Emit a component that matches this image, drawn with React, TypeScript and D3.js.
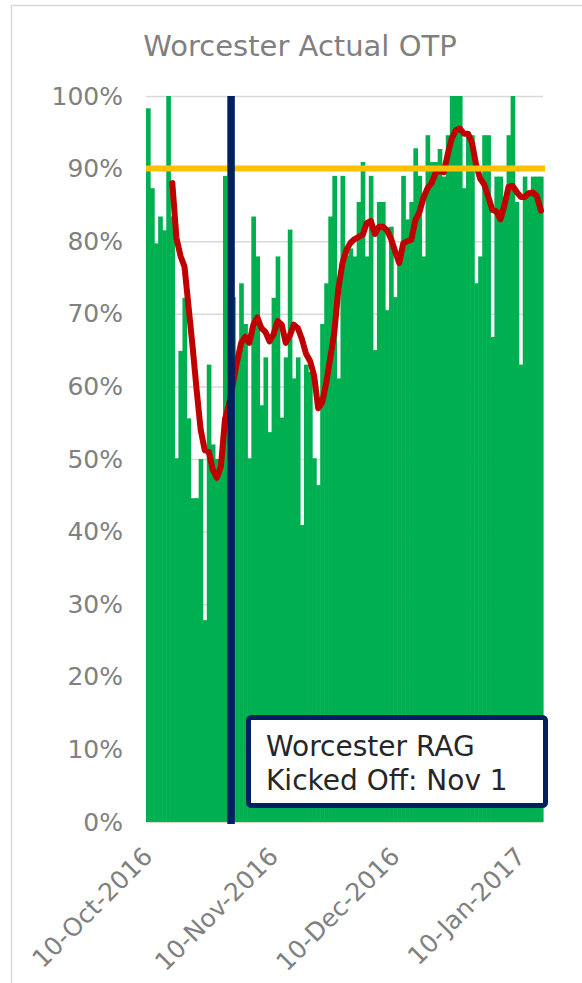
import React, { useEffect, useRef } from "react";
import * as d3 from "d3";

// Daily OTP %, 9-Oct-2016 .. 14-Jan-2017
const otp = [
  98.3, 87.3, 79.7, 83.4, 81.5, 100, 83.4, 50.1, 64.9, 72.2,
  55.6, 44.6, 44.6, 50.0, 27.8, 63.0, 52.0, 50.0, 49.0, 89.0,
  49.0, 72.3, 64.0, 74.2, 68.6, 50.1, 83.4, 77.9, 57.4, 64.0,
  53.7, 72.2, 77.9, 55.7, 64.0, 81.6, 61.1, 64.0, 40.9, 63.0,
  62.0, 50.1, 46.4, 68.6, 74.2, 83.4, 89.0, 61.1, 89.0, 78.0,
  79.0, 77.9, 85.4, 90.9, 77.9, 89.0, 65.0, 85.4, 85.4, 70.5,
  82.0, 72.3, 78.0, 89.0, 83.0, 85.4, 92.8, 89.0, 77.9, 94.6,
  90.9, 90.9, 92.7, 88.9, 94.6, 100, 100, 100, 87.3, 95.0,
  94.6, 74.2, 77.9, 94.6, 94.6, 66.8, 88.9, 88.9, 86.0, 94.6,
  100, 85.4, 63.0, 88.9, 86.5, 88.9, 88.9, 88.9,
];

// 7-day trend line (red), first point sits on day index 6
const trendStart = 6;
const trend = [
  88, 80.5, 78, 76.5, 71, 65.5, 59.5, 54, 51.2, 51,
  48.5, 47.4, 49, 55.5, 57.5, 60.5, 63.5, 66, 66.8, 66,
  68.5, 69.5, 68, 67.5, 66.2, 67.2, 69, 68.5, 66, 67,
  68.5, 68, 66.5, 64.5, 63.5, 61.5, 57, 57.8, 60.5, 64,
  67.5, 73.5, 77, 78.8, 79.8, 80.3, 80.6, 80.9, 82.5, 82.8,
  81, 82, 82, 81.5, 80.3, 78.6, 77, 79.7, 80, 80.2,
  82.9, 84, 86, 87.3, 88, 89.4, 89.7, 89.5, 92, 94.2,
  95.3, 95.5, 94.8, 94.8, 93.5, 90.5, 88.6, 87.8, 86.1, 84.3,
  84.1, 83, 85, 87.5, 87.6, 86.8, 86.1, 86.1, 86.6, 86.7,
  86.2, 84.2,
];

const target = 90;
const yTicks = [0, 10, 20, 30, 40, 50, 60, 70, 80, 90, 100];
const xTickDates = ["2016-10-10", "2016-11-10", "2016-12-10", "2017-01-10"];
const xTickLabels = ["10-Oct-2016", "10-Nov-2016", "10-Dec-2016", "10-Jan-2017"];
const kickOffMarker = "2016-10-30";
const noteLines = ["Worcester RAG", "Kicked Off: Nov 1"];

const dates = d3.timeDay.range(new Date(2016, 9, 9), new Date(2017, 0, 15));
const fmt = d3.timeFormat("%Y-%m-%d");

const FONT = "Verdana, 'DejaVu Sans', sans-serif";
const GREY = "#808080";

export default function App() {
  const svgRef = useRef<SVGSVGElement>(null);
  const width = 582;
  const height = 983;

  useEffect(() => {
    if (!svgRef.current) return;
    const svg = d3.select(svgRef.current);
    svg.selectAll("*").remove();

    const plot = { left: 146, right: 543, top: 96, bottom: 822 };

    const keys = dates.map(fmt);
    const x = d3.scaleBand<string>().domain(keys).range([plot.left, plot.right]).padding(0);
    const y = d3.scaleLinear().domain([0, 100]).range([plot.bottom, plot.top]);
    const bw = x.bandwidth();

    // chart area border
    svg.append("rect")
      .attr("x", 11.5).attr("y", 5.5)
      .attr("width", 620).attr("height", 1000)
      .attr("fill", "#fff")
      .attr("stroke", "#d9d9d9")
      .attr("stroke-width", 1.5);

    svg.append("text")
      .attr("x", 300).attr("y", 56)
      .attr("text-anchor", "middle")
      .attr("font-family", FONT)
      .attr("font-size", "29px")
      .attr("fill", GREY)
      .text("Worcester Actual OTP");

    // ── gridlines + y labels ─────────────────────────
    const yAxis = svg.append("g")
      .attr("transform", `translate(${plot.left},0)`)
      .call(d3.axisLeft(y).tickValues(yTicks).tickSize(-(plot.right - plot.left)).tickFormat((d) => `${d}%`));
    yAxis.select(".domain").remove();
    yAxis.selectAll(".tick line").attr("stroke", "#d9d9d9").attr("stroke-width", 1.5);
    yAxis.selectAll(".tick text")
      .attr("x", -(plot.left - 123))
      .attr("fill", GREY)
      .attr("font-size", "25px")
      .attr("font-family", FONT);

    // ── bars ──────────────────────────────────────────
    svg.append("g")
      .selectAll("rect")
      .data(otp)
      .join("rect")
      .attr("x", (_, i) => x(keys[i])!)
      .attr("y", (d) => y(d))
      .attr("width", bw + 0.6)
      .attr("height", (d) => y(0) - y(d))
      .attr("fill", "#00b050");

    // ── trend line ───────────────────────────────────
    const line = d3.line<number>()
      .x((_, i) => x(keys[i + trendStart])! + bw / 2)
      .y((d) => y(d));
    svg.append("path")
      .attr("d", line(trend))
      .attr("fill", "none")
      .attr("stroke", "#c00000")
      .attr("stroke-width", 6)
      .attr("stroke-linejoin", "round")
      .attr("stroke-linecap", "round");

    // ── target line ──────────────────────────────────
    svg.append("line")
      .attr("x1", plot.left).attr("x2", plot.right + 2)
      .attr("y1", y(target)).attr("y2", y(target))
      .attr("stroke", "#ffc000")
      .attr("stroke-width", 6);

    // ── kick-off marker ──────────────────────────────
    const mx = x(kickOffMarker)!;
    svg.append("line")
      .attr("x1", mx).attr("x2", mx)
      .attr("y1", y(100)).attr("y2", y(0) + 2)
      .attr("stroke", "#002060")
      .attr("stroke-width", 7.5);

    // ── x labels ─────────────────────────────────────
    xTickDates.forEach((d, k) => {
      const cx = x(d)! + bw / 2;
      svg.append("text")
        .attr("transform", `translate(${cx + 2},858) rotate(-45)`)
        .attr("text-anchor", "end")
        .attr("font-family", FONT)
        .attr("font-size", "25px")
        .attr("fill", GREY)
        .text(xTickLabels[k]);
    });

    // ── note box ─────────────────────────────────────
    svg.append("rect")
      .attr("x", 248.5).attr("y", 717.5)
      .attr("width", 297).attr("height", 88)
      .attr("rx", 3)
      .attr("fill", "#fff")
      .attr("stroke", "#002060")
      .attr("stroke-width", 5);
    noteLines.forEach((t, k) => {
      svg.append("text")
        .attr("x", 266).attr("y", 756 + k * 34)
        .attr("font-family", FONT)
        .attr("font-size", "28px")
        .attr("fill", "#262626")
        .text(t);
    });
  }, []);

  return (
    <div style={{ position: "fixed", left: 0, top: 0, background: "#fff" }}>
      <svg ref={svgRef} width={width} height={height} style={{ display: "block" }} />
    </div>
  );
}
